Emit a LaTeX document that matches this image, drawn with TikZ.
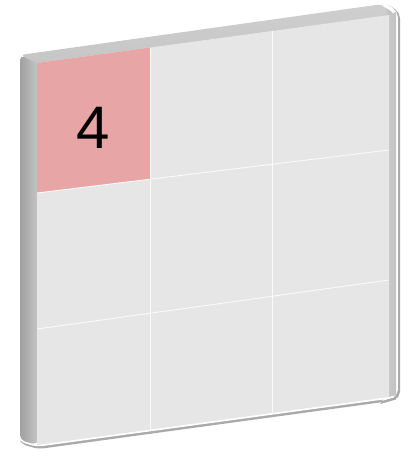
\documentclass[tikz,border=0pt]{standalone}
\usepackage{fontspec}
\setmainfont{Liberation Sans}
\definecolor{frontgray}{RGB}{230,230,230}
\definecolor{cellpink}{RGB}{232,165,165}
\definecolor{sidedark}{RGB}{160,160,160}
\definecolor{sidelight}{RGB}{195,195,195}
\definecolor{topgray}{RGB}{198,198,198}
\definecolor{rightgray}{RGB}{200,200,200}
\definecolor{shadowgray}{RGB}{170,170,170}
\tikzset{
  gridline/.style={draw=white!96!gray, line width=0.9pt},
  silhouette/.style={rounded corners=5pt},
}
\begin{document}
\begin{tikzpicture}[x=1pt,y=-1pt]
\useasboundingbox (0,0) rectangle (410,457);
% corners of the front face
\coordinate (TL) at (37,63);
\coordinate (TR) at (389,15);
\coordinate (BR) at (389,397);
\coordinate (BL) at (37,445);
% back corners
\coordinate (bTL) at (20,55);
\coordinate (bTR) at (383,4);
\coordinate (rTR) at (396,12);
\coordinate (rBR) at (396,395);
\coordinate (bBL) at (20,440);
% shadow and white outline
\draw[silhouette, draw=shadowgray, line width=5pt, fill=shadowgray]
  ([shift={(1.5,1.5)}]bTL) -- ([shift={(1.5,1.5)}]bTR) -- ([shift={(1.5,1.5)}]rTR) -- ([shift={(1.5,1.5)}]rBR) -- ([shift={(1.5,1.5)}]BR) -- ([shift={(1.5,1.5)}]BL) -- ([shift={(1.5,1.5)}]bBL) -- cycle;
\draw[silhouette, draw=white, line width=3.5pt, fill=sidelight]
  (bTL) -- (bTR) -- (rTR) -- (rBR) -- (BR) -- (BL) -- (bBL) -- cycle;
% side face
\shade[silhouette, left color=sidedark, right color=sidelight]
  (bTL) -- (TL) -- (BL) -- (bBL) -- cycle;
% top face
\shade[silhouette, top color=topgray!85!white, bottom color=topgray]
  (bTL) -- (bTR) -- (TR) -- (TL) -- cycle;
% right strip
\shade[left color=rightgray, right color=sidelight]
  (TR) -- (rTR) -- (rBR) -- (BR) -- cycle;
% front face
\fill[frontgray] (TL) -- (TR) -- (BR) -- (BL) -- cycle;
% grid points
\coordinate (v1t) at (150,47.6);
\coordinate (v1b) at (150,429.6);
\coordinate (v2t) at (272,31);
\coordinate (v2b) at (272,413);
\coordinate (h1l) at (37,193);
\coordinate (h1r) at (389,150);
\coordinate (h2l) at (37,329);
\coordinate (h2r) at (389,280);
\coordinate (c1) at (150,179.2);
% pink cell
\fill[cellpink] (TL) -- (v1t) -- (c1) -- (h1l) -- cycle;
% grid lines
\draw[gridline] (v1t) -- (v1b);
\draw[gridline] (v2t) -- (v2b);
\draw[gridline] (h1l) -- (h1r);
\draw[gridline] (h2l) -- (h2r);
\node (num) at (93,128) {\fontsize{60}{72}\selectfont 4};
\end{tikzpicture}
\end{document}
